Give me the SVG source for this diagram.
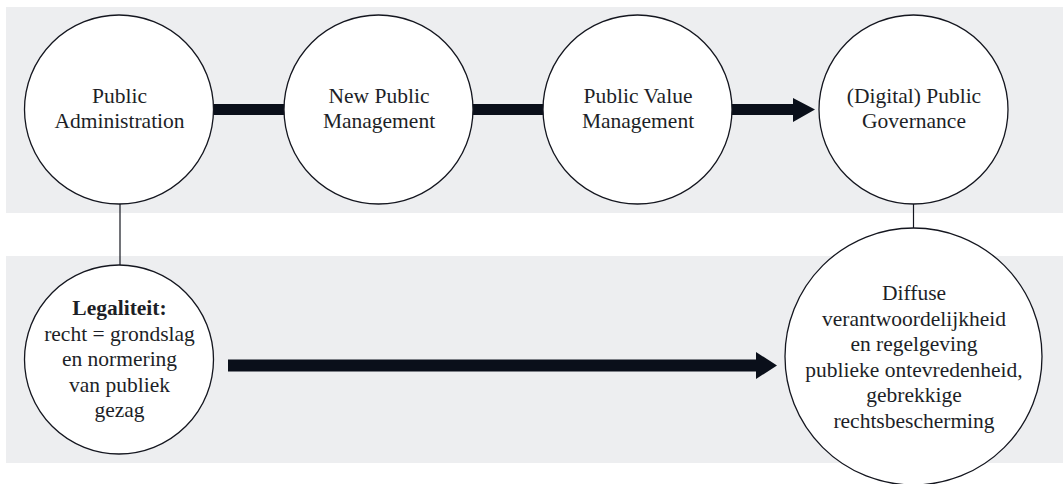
<svg xmlns="http://www.w3.org/2000/svg" width="1063" height="484" viewBox="0 0 1063 484">
<style>
.band{fill:#EDEEF0}
.node{fill:#FFFFFF;stroke:#14161f;stroke-width:1.3}
.t{font-family:"Liberation Serif","Times New Roman",serif;font-size:21.5px;fill:#1d1f27;text-anchor:middle}
.b{font-weight:bold}
.bar{fill:#0a0f1a}
.thin{stroke:#14161f;stroke-width:1.2;fill:none}
</style>
<rect class="band" x="6" y="7" width="1057" height="206"/>
<rect class="band" x="6" y="256" width="1057" height="207"/>
<g id="connectors">
<line class="thin" x1="120" y1="204" x2="120" y2="265"/>
<line class="thin" x1="913.5" y1="204" x2="913.5" y2="228"/>
<rect class="bar" x="212" y="104" width="73" height="11"/>
<rect class="bar" x="472" y="104" width="72" height="11"/>
<polygon class="bar" points="731,104 793,104 793,98 815,109.5 793,122 793,115 731,115"/>
<polygon class="bar" points="228,359.5 756,359.5 756,352 777,365.5 756,379 756,371.5 228,371.5"/>
</g>
<g id="n1">
<circle class="node" cx="119" cy="109.5" r="94.5"/>
<text class="t" x="119.5" y="102.7">Public</text>
<text class="t" x="119.5" y="128.3">Administration</text>
</g>
<g id="n2">
<circle class="node" cx="378.5" cy="109.5" r="94.5"/>
<text class="t" x="379" y="102.7">New Public</text>
<text class="t" x="379" y="128.3">Management</text>
</g>
<g id="n3">
<circle class="node" cx="637.5" cy="109.5" r="94.5"/>
<text class="t" x="638" y="102.7">Public Value</text>
<text class="t" x="638" y="128.3">Management</text>
</g>
<g id="n4">
<circle class="node" cx="913.5" cy="109.5" r="94.5"/>
<text class="t" x="914" y="102.7">(Digital) Public</text>
<text class="t" x="914" y="128.3">Governance</text>
</g>
<g id="n5">
<circle class="node" cx="119" cy="359.5" r="94.5"/>
<text class="t b" x="119.5" y="315">Legaliteit:</text>
<text class="t" x="119.5" y="340.5">recht = grondslag</text>
<text class="t" x="119.5" y="366">en normering</text>
<text class="t" x="119.5" y="391.5">van publiek</text>
<text class="t" x="119.5" y="417">gezag</text>
</g>
<g id="n6">
<circle class="node" cx="913.5" cy="356.5" r="128.5"/>
<text class="t" x="914" y="300">Diffuse</text>
<text class="t" x="914" y="325.5">verantwoordelijkheid</text>
<text class="t" x="914" y="351">en regelgeving</text>
<text class="t" x="914" y="376.5">publieke ontevredenheid,</text>
<text class="t" x="914" y="402">gebrekkige</text>
<text class="t" x="914" y="427.5">rechtsbescherming</text>
</g>
</svg>
